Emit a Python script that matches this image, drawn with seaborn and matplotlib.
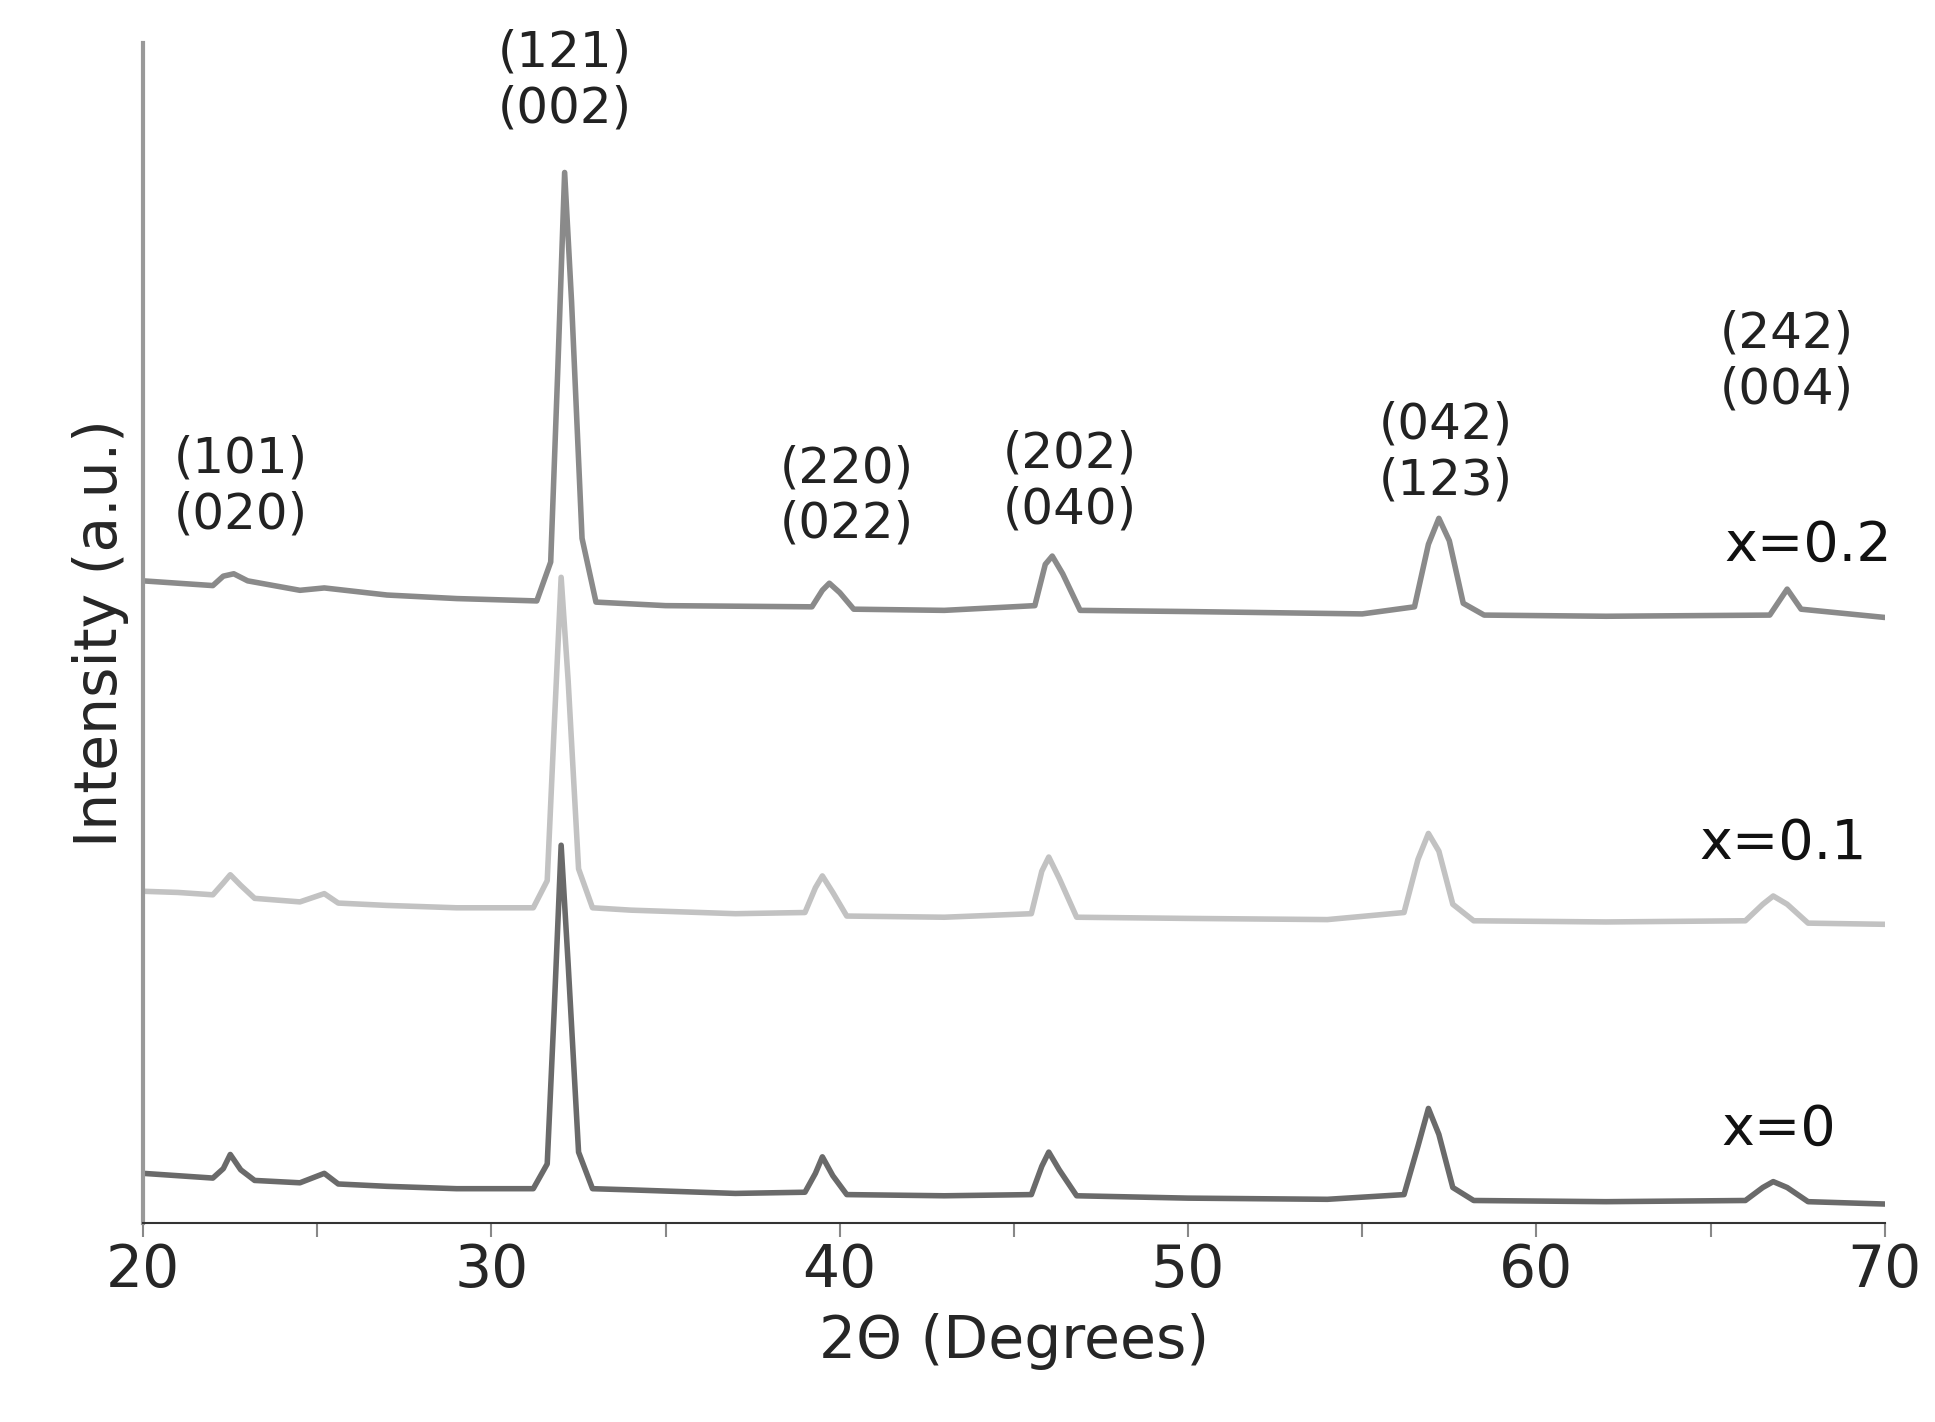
import matplotlib
matplotlib.use("Agg")
import matplotlib.pyplot as plt
import seaborn as sns
import pandas as pd
from matplotlib.ticker import MultipleLocator

# XRD traces (2theta, intensity a.u.)
x0_t = [20, 21, 22, 22.3, 22.5, 22.8, 23.2, 24.5, 25.2, 25.6, 27, 29, 31.2, 31.6, 31.8, 32.0, 32.2, 32.5, 32.9,
        34, 37, 39, 39.3, 39.5, 39.8, 40.2, 43, 45.5, 45.8, 46.0, 46.3, 46.8, 50, 54, 56.2, 56.6, 56.9, 57.2,
        57.6, 58.2, 62, 66, 66.5, 66.8, 67.2, 67.8, 70]
x0_i = [4.2, 4.0, 3.8, 4.6, 5.8, 4.5, 3.6, 3.4, 4.2, 3.3, 3.1, 2.9, 2.9, 5, 18, 32, 22, 6, 2.9,
        2.8, 2.5, 2.6, 4.2, 5.6, 4.0, 2.4, 2.3, 2.4, 4.8, 6.0, 4.5, 2.3, 2.1, 2.0, 2.4, 6.5, 9.7, 7.5,
        3.0, 1.9, 1.8, 1.9, 3.0, 3.5, 3.0, 1.8, 1.6]

x1_t = x0_t
x1_i = [28.1, 28.0, 27.8, 28.8, 29.5, 28.6, 27.5, 27.2, 27.9, 27.1, 26.9, 26.7, 26.7, 29, 42, 54.7, 46, 30, 26.7,
        26.5, 26.2, 26.3, 28.4, 29.4, 28.0, 26.0, 25.9, 26.2, 29.8, 31.0, 29.2, 25.9, 25.8, 25.7, 26.3, 30.8, 33.0, 31.5,
        27.0, 25.6, 25.5, 25.6, 27.0, 27.7, 27.0, 25.4, 25.3]

x2_t = [20, 21, 22, 22.3, 22.6, 23, 24.5, 25.2, 27, 29, 31.3, 31.7, 31.9, 32.1, 32.3, 32.6, 33, 35, 39.2, 39.5,
        39.7, 40.0, 40.4, 43, 45.6, 45.9, 46.1, 46.4, 46.9, 50, 55, 56.5, 56.9, 57.2, 57.5, 57.9, 58.5, 62,
        66.7, 67.2, 67.6, 70]
x2_i = [54.4, 54.2, 54.0, 54.8, 55.0, 54.4, 53.6, 53.8, 53.2, 52.9, 52.7, 56, 72, 89, 78, 58, 52.6, 52.3, 52.2, 53.6,
        54.2, 53.4, 52.0, 51.9, 52.3, 55.8, 56.5, 55.0, 51.9, 51.8, 51.6, 52.2, 57.5, 59.7, 57.8, 52.5, 51.5, 51.4,
        51.5, 53.7, 52.0, 51.3]

series_labels = ["x=0", "x=0.1", "x=0.2"]
series_colors = ["#6a6a6a", "#c2c2c2", "#8a8a8a"]

peak_labels = ["(101)\n(020)", "(121)\n(002)", "(220)\n(022)", "(202)\n(040)", "(042)\n(123)", "(242)\n(004)"]
peak_x = [22.8, 32.1, 40.2, 46.6, 57.4, 67.2]
peak_y = [62.4, 96.8, 61.6, 62.8, 65.3, 73.0]

sns.set_style("white")
plt.rcParams['font.family'] = ['DejaVu Sans']

fig = plt.figure(figsize=(19.35, 14.22), dpi=100)
ax = fig.add_axes([0.074, 0.14, 0.90, 0.83])

for t, i, c in [(x0_t, x0_i, series_colors[0]), (x1_t, x1_i, series_colors[1]), (x2_t, x2_i, series_colors[2])]:
    df = pd.DataFrame({"t": t, "i": i})
    sns.lineplot(data=df, x="t", y="i", color=c, lw=4, sort=False, ax=ax)

for lab, px, py in zip(peak_labels, peak_x, peak_y):
    ax.text(px, py, lab, ha="center", va="center", fontsize=36, linespacing=1.2, color="#222")

for lab, px, py in zip(series_labels, [68.6, 69.5, 70.2], [7.9, 32.1, 57.4]):
    ax.text(px, py, lab, ha="right", va="center", fontsize=40, color="#111")

ax.set_xlim(20, 70)
ax.set_ylim(0, 100)
ax.xaxis.set_major_locator(MultipleLocator(10))
ax.xaxis.set_minor_locator(MultipleLocator(5))
ax.tick_params(axis="x", which="both", direction="out", bottom=True, labelsize=42, length=10, width=1.5, color="#888")
ax.set_yticks([])
ax.set_xlabel("2Θ (Degrees)", fontsize=42, labelpad=10)
ax.set_ylabel("Intensity (a.u.)", fontsize=42, labelpad=10)
for s in ["top", "right"]:
    ax.spines[s].set_visible(False)
ax.spines["left"].set_color("#999")
ax.spines["left"].set_linewidth(3)
ax.spines["bottom"].set_color("#333")
ax.spines["bottom"].set_linewidth(1.5)

fig.savefig("out.png", dpi=100)
